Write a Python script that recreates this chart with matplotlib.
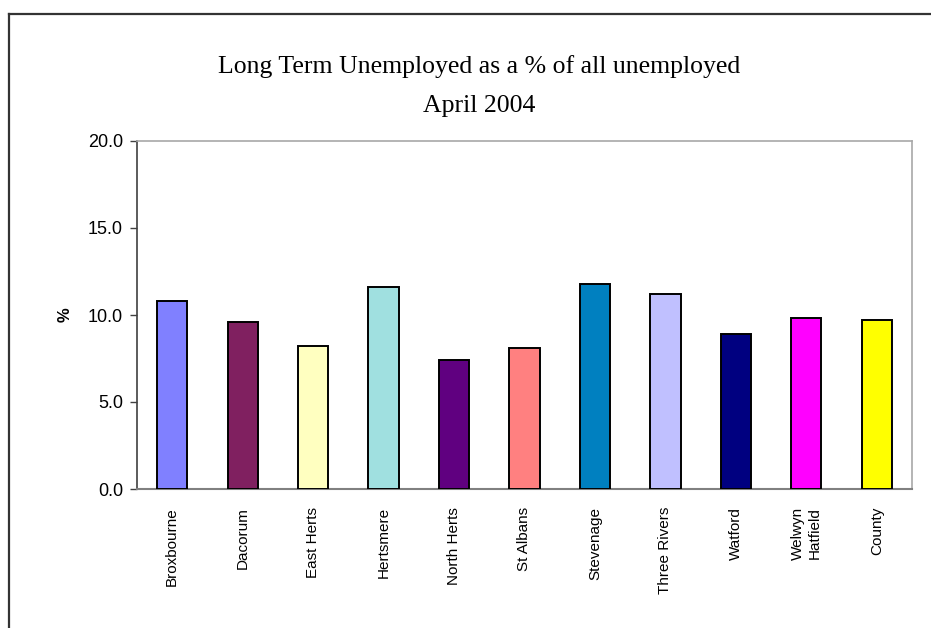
import matplotlib
matplotlib.use("Agg")
import matplotlib.pyplot as plt
from matplotlib.lines import Line2D

# Long term unemployment by district, April 2004
districts = [
    "Broxbourne", "Dacorum", "East Herts", "Hertsmere", "North Herts",
    "St Albans", "Stevenage", "Three Rivers", "Watford",
    "Welwyn\nHatfield", "County",
]
long_term_pct = [10.8, 9.6, 8.2, 11.6, 7.4, 8.1, 11.8, 11.2, 8.9, 9.8, 9.7]
bar_colours = [
    "#8080FF", "#802060", "#FFFFC0", "#A0E0E0", "#600080",
    "#FF8080", "#0080C0", "#C0C0FF", "#000080", "#FF00FF", "#FFFF00",
]
y_ticks = [0.0, 5.0, 10.0, 15.0, 20.0]

fig = plt.figure(figsize=(9.31, 6.28), dpi=100)
ax = fig.add_axes([137 / 931, 1 - 489 / 628, 775 / 931, 348 / 628])

x = range(len(districts))
ax.bar(x, long_term_pct, width=0.43, color=bar_colours,
       edgecolor="black", linewidth=1.4, zorder=3)

ax.set_xlim(-0.5, len(districts) - 0.5)
ax.set_ylim(0, 20)
ax.set_yticks(y_ticks)
ax.set_yticklabels([f"{v:.1f}" for v in y_ticks],
                   fontfamily="Liberation Sans", fontsize=13)
ax.set_xticks(list(x))
ax.set_xticklabels(districts, rotation=90, fontfamily="Liberation Sans",
                   fontsize=11, va="top", ha="center", multialignment="right")
ax.tick_params(axis="x", length=0, pad=13)
ax.tick_params(axis="y", length=5, width=1, color="#404040", pad=5)

ax.set_ylabel("%", fontfamily="Liberation Sans", fontsize=12,
              fontweight="bold", labelpad=11)

# plot area border
ax.spines["left"].set_color("#404040")
ax.spines["left"].set_linewidth(1.2)
ax.spines["bottom"].set_color("#808080")
ax.spines["bottom"].set_linewidth(1.5)
for side in ("top", "right"):
    ax.spines[side].set_color("#A8A8A8")
    ax.spines[side].set_linewidth(1.2)

# chart title, two lines
title_x = 479 / 931
fig.text(title_x, 1 - 73 / 628,
         "Long Term Unemployed as a % of all unemployed",
         fontfamily="Liberation Serif", fontsize=18.5, ha="center", va="baseline")
fig.text(title_x, 1 - 112 / 628, "April 2004",
         fontfamily="Liberation Serif", fontsize=18.5, ha="center", va="baseline")

# outer chart frame
fx = 8.5 / 931
fy = 1 - 13.5 / 628
fig.add_artist(Line2D([fx, fx], [0, fy], transform=fig.transFigure,
                      color="#333333", linewidth=1.6))
fig.add_artist(Line2D([fx, 1], [fy, fy], transform=fig.transFigure,
                      color="#333333", linewidth=1.6))

fig.savefig("out.png", dpi=100)
